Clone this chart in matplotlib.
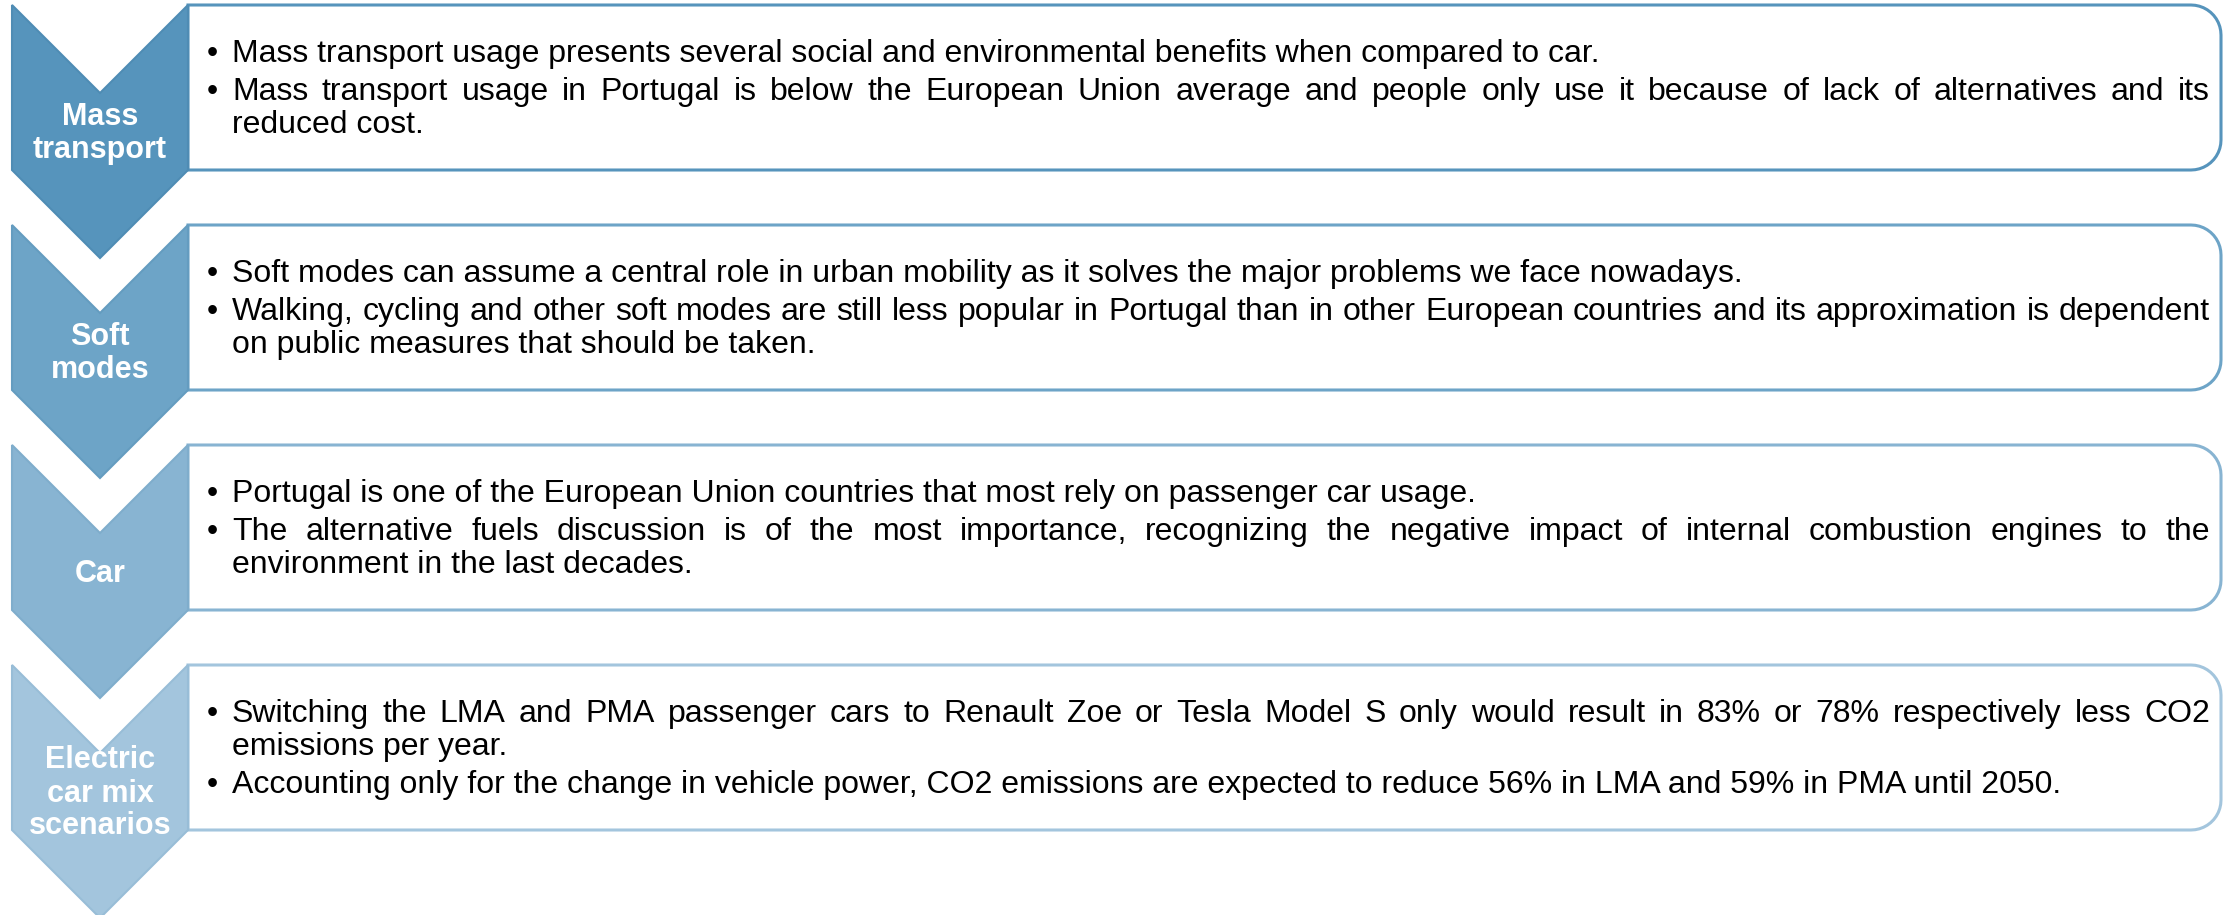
import matplotlib
matplotlib.use("Agg")
import matplotlib.pyplot as plt
from matplotlib.patches import Polygon, PathPatch
from matplotlib.path import Path
import numpy as np

# chevron labels and the bullet lines (manual line breaks as in the slide)
labels = ["Mass\ntransport", "Soft\nmodes", "Car", "Electric\ncar mix\nscenarios"]

bullets = [
    [["Mass transport usage presents several social and environmental benefits when compared to car."],
     ["Mass transport usage in Portugal is below the European Union average and people only use it because of lack of alternatives and its",
      "reduced cost."]],
    [["Soft modes can assume a central role in urban mobility as it solves the major problems we face nowadays."],
     ["Walking, cycling and other soft modes are still less popular in Portugal than in other European countries and its approximation is dependent",
      "on public measures that should be taken."]],
    [["Portugal is one of the European Union countries that most rely on passenger car usage."],
     ["The alternative fuels discussion is of the most importance, recognizing the negative impact of internal combustion engines to the",
      "environment in the last decades."]],
    [["Switching the LMA and PMA passenger cars to Renault Zoe or Tesla Model S only would result in 83% or 78% respectively less CO2",
      "emissions per year."],
     ["Accounting only for the change in vehicle power, CO2 emissions are expected to reduce 56% in LMA and 59% in PMA until 2050."]],
]

fill_colors = ["#5694BC", "#6DA4C7", "#88B4D2", "#A3C5DD"]
edge_colors = ["#4F8CB4", "#649CC0", "#7FADCC", "#98BDD7"]

W, H = 2233, 915
fig = plt.figure(figsize=(W / 100, H / 100), dpi=100)
ax = fig.add_axes([0, 0, 1, 1])
ax.set_xlim(0, W)
ax.set_ylim(H, 0)
ax.axis("off")
renderer = fig.canvas.get_renderer()

font = "Liberation Sans"
fs_text = 23
fs_label = 22

row_step = 220
top0 = 5
box_h = 165
cx0, cx1 = 12, 188
notch = (cx1 - cx0) / 2
box_right = 2221
rad = 30
text_left = 232
bullet_x = 212
text_right = 2210
line_step = 33.5
para_step = 38


def box_path(x0, x1, y0, y1, r):
    # left corners square, right corners rounded
    a1 = np.linspace(-np.pi / 2, 0, 12)
    a2 = np.linspace(0, np.pi / 2, 12)
    pts = [(x0, y0)]
    pts += [(x1 - r + r * np.cos(a), y0 + r + r * np.sin(a)) for a in a1]
    pts += [(x1 - r + r * np.cos(a), y1 - r + r * np.sin(a)) for a in a2]
    pts += [(x0, y1), (x0, y0)]
    codes = [Path.MOVETO] + [Path.LINETO] * (len(pts) - 2) + [Path.CLOSEPOLY]
    return Path(pts, codes)


def justified(line, y):
    words = line.split()
    objs = []
    widths = []
    for w in words:
        t = ax.text(0, y, w, fontsize=fs_text, family=font, va="baseline", ha="left", color="black", zorder=5)
        objs.append(t)
        widths.append(t.get_window_extent(renderer).width)
    gap = (text_right - text_left - sum(widths)) / (len(words) - 1)
    x = text_left
    for t, w in zip(objs, widths):
        t.set_x(x)
        x += w + gap


for i in range(len(labels)):
    top = top0 + i * row_step
    bot = top + box_h

    # text box
    ax.add_patch(PathPatch(box_path(cx1, box_right, top, bot, rad), facecolor="white",
                           edgecolor=fill_colors[i], lw=2.2, zorder=1))

    # chevron
    pts = [(cx0, top), (cx0 + notch, top + notch), (cx1, top), (cx1, bot),
           (cx0 + notch, bot + notch), (cx0, bot)]
    ax.add_patch(Polygon(pts, closed=True, facecolor=fill_colors[i], edgecolor=edge_colors[i],
                         lw=1.5, zorder=2))

    # chevron label
    lab_lines = labels[i].split("\n")
    mid = (top + notch + bot) / 2 + 10
    y = mid - (len(lab_lines) - 1) * 33 / 2
    for ln in lab_lines:
        ax.text(cx0 + notch, y, ln, fontsize=fs_label, family=font, weight="bold",
                color="white", ha="center", va="baseline", zorder=3)
        y += 33

    # bullet text
    n_lines = sum(len(p) for p in bullets[i])
    span = (n_lines - len(bullets[i])) * line_step + (len(bullets[i]) - 1) * para_step
    y = (top + bot) / 2 + 10 - span / 2
    for p in bullets[i]:
        ax.text(bullet_x, y, "\u2022", fontsize=fs_text, family=font, ha="center", va="baseline", zorder=5)
        for k, ln in enumerate(p):
            if k < len(p) - 1:
                justified(ln, y)
            else:
                ax.text(text_left, y, ln, fontsize=fs_text, family=font, ha="left", va="baseline", zorder=5)
            if k < len(p) - 1:
                y += line_step
        y += para_step

fig.savefig("out.png", dpi=100, facecolor="white")
